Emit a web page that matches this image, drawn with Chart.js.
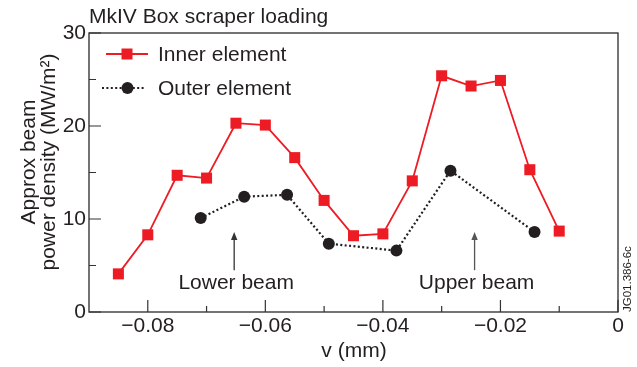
<!DOCTYPE html>
<html><head><meta charset="utf-8">
<script src="https://cdn.jsdelivr.net/npm/chart.js@4/dist/chart.umd.min.js"></script>
<style>html,body{margin:0;padding:0;background:#fff;overflow:hidden}</style>
</head><body>
<canvas id="c" width="637" height="367" style="width:637px;height:367px;display:block"></canvas>
<script>
// ---- data ----
const innerX = [-0.085, -0.080, -0.075, -0.070, -0.065, -0.060, -0.055, -0.050, -0.045, -0.040, -0.035, -0.030, -0.025, -0.020, -0.015, -0.010];
const innerY = [4.1, 8.3, 14.7, 14.4, 20.3, 20.1, 16.6, 12.0, 8.2, 8.4, 14.1, 25.4, 24.3, 24.9, 15.3, 8.7];
const outerX = [-0.0710, -0.0636, -0.0563, -0.0492, -0.0377, -0.0285, -0.0142];
const outerY = [10.1, 12.4, 12.6, 7.35, 6.6, 15.2, 8.6];
const xTicks = [-0.08, -0.06, -0.04, -0.02, 0];
const xMinorTicks = [-0.07, -0.05, -0.03, -0.01];
const yTicks = [0, 10, 20, 30];
const yMinorTicks = [5, 15, 25];
const seriesNames = ['Inner element', 'Outer element'];
const titleText = 'MkIV Box scraper loading';
const yTitleLines = ['Approx beam', 'power density (MW/m\u00B2)'];
const xTitleText = 'v (mm)';
const noteX = [-0.0653, -0.0244];
const noteLabels = ['Lower beam', 'Upper beam'];
const noteArrowFrom = 4.5, noteArrowTo = 8.6, noteTextY = 2.45;
const figId = 'JG01.386-6c';

const RED = '#ed1c24', INK = '#231f20', FONT = '"Liberation Sans", Arial, Helvetica, sans-serif';
Chart.defaults.font.family = FONT;

function fmt(v){ if (Math.abs(v) < 1e-9) return '0'; return (v < 0 ? '\u2212' : '') + Math.abs(v).toFixed(2); }

const deco = {
  id: 'deco',
  afterDraw(chart){
    const ctx = chart.ctx, a = chart.chartArea, xs = chart.scales.x, ys = chart.scales.y;
    ctx.save();
    // frame
    ctx.strokeStyle = '#2a2a2a'; ctx.lineWidth = 1.3;
    ctx.strokeRect(a.left, a.top, a.right - a.left, a.bottom - a.top);
    // ticks (inward)
    ctx.lineWidth = 1.2; ctx.strokeStyle = '#333';
    ctx.beginPath();
    xTicks.forEach(v => { const p = xs.getPixelForValue(v); ctx.moveTo(p, a.bottom); ctx.lineTo(p, a.bottom - 12); });
    xMinorTicks.forEach(v => { const p = xs.getPixelForValue(v); ctx.moveTo(p, a.bottom); ctx.lineTo(p, a.bottom - 6); });
    yTicks.forEach(v => { const p = ys.getPixelForValue(v); ctx.moveTo(a.left, p); ctx.lineTo(a.left + 12, p); });
    yMinorTicks.forEach(v => { const p = ys.getPixelForValue(v); ctx.moveTo(a.left, p); ctx.lineTo(a.left + 7, p); });
    ctx.stroke();

    ctx.fillStyle = INK;
    ctx.font = '21px ' + FONT;
    ctx.textBaseline = 'alphabetic';
    // title
    ctx.textAlign = 'left';
    ctx.fillText(titleText, a.left, 23);
    // x title
    ctx.textAlign = 'center';
    ctx.fillText(xTitleText, (a.left + a.right) / 2 + 0.5, 357);
    // y title
    ctx.save();
    ctx.translate(35, 162); ctx.rotate(-Math.PI / 2);
    ctx.textAlign = 'center';
    ctx.fillText(yTitleLines[0], 0, 0);
    ctx.fillText(yTitleLines[1], 0, 20);
    ctx.restore();

    // legend
    const lx = a.left;
    ctx.strokeStyle = RED; ctx.lineWidth = 1.8; ctx.setLineDash([]);
    ctx.beginPath(); ctx.moveTo(lx + 17, 54); ctx.lineTo(lx + 59, 54); ctx.stroke();
    ctx.fillStyle = RED; ctx.fillRect(lx + 38 - 5.5, 54 - 5.5, 11, 11);
    ctx.strokeStyle = INK; ctx.lineWidth = 2.2; ctx.setLineDash([2, 2.4]);
    ctx.beginPath(); ctx.moveTo(lx + 13, 88); ctx.lineTo(lx + 57, 88); ctx.stroke();
    ctx.setLineDash([]);
    ctx.fillStyle = INK; ctx.beginPath(); ctx.arc(lx + 38.5, 88, 6, 0, Math.PI * 2); ctx.fill();
    ctx.textAlign = 'left';
    ctx.fillText(seriesNames[0], lx + 69, 61);
    ctx.fillText(seriesNames[1], lx + 69, 95);

    // annotations
    noteX.forEach((v, i) => {
      const px = xs.getPixelForValue(v);
      const y0 = ys.getPixelForValue(noteArrowFrom), y1 = ys.getPixelForValue(noteArrowTo);
      ctx.strokeStyle = i === 0 ? '#333' : '#555'; ctx.fillStyle = ctx.strokeStyle; ctx.lineWidth = 1.3;
      ctx.beginPath(); ctx.moveTo(px, y0); ctx.lineTo(px, y1 + 6); ctx.stroke();
      ctx.beginPath(); ctx.moveTo(px, y1); ctx.lineTo(px - 3.2, y1 + 8); ctx.lineTo(px + 3.2, y1 + 8); ctx.closePath(); ctx.fill();
      ctx.fillStyle = INK; ctx.textAlign = 'center';
      ctx.fillText(noteLabels[i], px + 2, ys.getPixelForValue(noteTextY));
    });

    // figure id
    ctx.save();
    ctx.font = '11.5px ' + FONT; ctx.fillStyle = INK;
    ctx.translate(631, a.bottom); ctx.rotate(-Math.PI / 2);
    ctx.textAlign = 'left';
    ctx.fillText(figId, 0, 0);
    ctx.restore();
    ctx.restore();
  }
};

new Chart(document.getElementById('c'), {
  type: 'scatter',
  data: {
    datasets: [
      {
        label: seriesNames[0],
        data: innerX.map((x, i) => ({ x, y: innerY[i] })),
        showLine: true, borderColor: RED, backgroundColor: RED, borderWidth: 1.8,
        pointStyle: 'rect', pointRadius: 7.8, pointBorderWidth: 0, pointHoverRadius: 7.8
      },
      {
        label: seriesNames[1],
        data: outerX.map((x, i) => ({ x, y: outerY[i] })),
        showLine: true, borderColor: INK, backgroundColor: INK, borderWidth: 2.2, borderDash: [2, 2.4],
        pointStyle: 'circle', pointRadius: 6, pointBorderWidth: 0, pointHoverRadius: 6
      }
    ]
  },
  options: {
    responsive: false, animation: false, devicePixelRatio: 1,
    layout: { padding: { left: 0, top: 33, right: 19, bottom: 0 } },
    plugins: { legend: { display: false }, title: { display: false }, tooltip: { enabled: false } },
    scales: {
      x: {
        type: 'linear', min: -0.09, max: 0,
        afterBuildTicks: s => { s.ticks = xTicks.map(v => ({ value: v })); },
        afterFit: s => { s.height = 55; },
        grid: { display: false, drawTicks: false }, border: { display: false },
        ticks: { font: { size: 21 }, color: INK, padding: 2, maxRotation: 0, autoSkip: false, callback: v => fmt(v) }
      },
      y: {
        type: 'linear', min: 0, max: 30,
        afterBuildTicks: s => { s.ticks = yTicks.map(v => ({ value: v })); },
        afterFit: s => { s.width = 89; },
        grid: { display: false, drawTicks: false }, border: { display: false },
        ticks: { font: { size: 21 }, color: INK, padding: 3, callback: v => String(v) }
      }
    }
  },
  plugins: [deco]
});
</script>
</body></html>
